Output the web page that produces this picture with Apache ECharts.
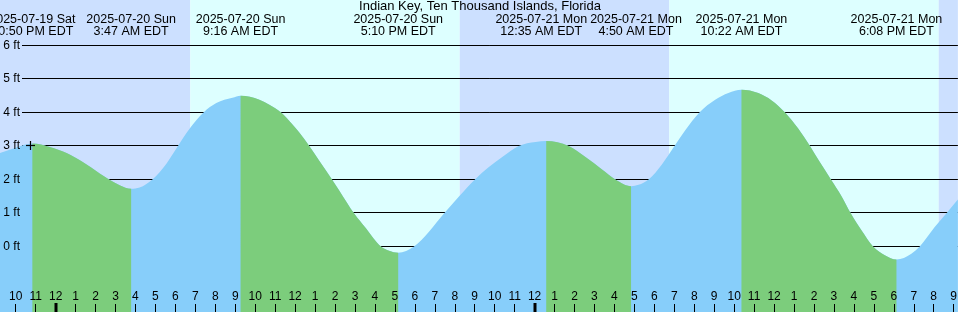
<!DOCTYPE html>
<html>
<head>
<meta charset="utf-8">
<style>html,body{margin:0;padding:0;background:#fff}#chart{width:960px;height:312px}</style>
<script src="https://cdn.jsdelivr.net/npm/echarts@6/dist/echarts.min.js"></script>
</head>
<body>
<div id="chart"></div>
<script>
// ---- data (hours measured from 2025-07-20 00:00 EDT) ----
const titleText = 'Indian Key, Ten Thousand Islands, Florida';
const eventHours = [-1.1667, 3.7833, 9.2667, 17.1667, 24.5833, 28.8333, 34.3667, 42.1333];
const eventFeet  = [3.07, 1.72, 4.50, -0.19, 3.15, 1.80, 4.68, -0.39];
const eventDates = ['2025-07-19 Sat', '2025-07-20 Sun', '2025-07-20 Sun', '2025-07-20 Sun',
                    '2025-07-21 Mon', '2025-07-21 Mon', '2025-07-21 Mon', '2025-07-21 Mon'];
const eventClock = ['10:50 PM EDT', '3:47 AM EDT', '9:16 AM EDT', '5:10 PM EDT',
                    '12:35 AM EDT', '4:50 AM EDT', '10:22 AM EDT', '6:08 PM EDT'];
const readHours = [-2.79, -2.04, -0.29, 0.55, 1.36, 2.21, 2.68, 3.21, 4.21, 4.85, 5.55, 6.13, 6.71,
  7.41, 8.05, 8.86, 10.21, 10.71, 11.30, 11.88, 12.21, 12.71, 13.21, 13.85, 14.21, 14.96, 15.55,
  16.30, 16.71, 17.96, 19.46, 20.21, 21.01, 22.38, 23.21, 24.05, 25.71, 26.55, 27.38, 28.05, 29.21,
  29.71, 30.38, 31.01, 31.55, 32.26, 33.05, 33.71, 35.21, 35.88, 36.55, 37.21, 37.80, 38.30, 38.85,
  39.38, 39.85, 40.38, 40.96, 41.55, 42.88, 43.30, 44.05, 44.63, 45.21];
const readFeet = [2.79, 2.94, 2.97, 2.79, 2.52, 2.18, 2.00, 1.83, 1.76, 2.00, 2.47, 3.00, 3.51,
  4.00, 4.28, 4.44, 4.38, 4.23, 4.00, 3.63, 3.40, 3.00, 2.56, 2.00, 1.67, 0.98, 0.54,
  0.00, -0.13, 0.00, 0.98, 1.49, 2.00, 2.67, 3.00, 3.12, 3.00, 2.67, 2.30, 2.00, 1.84,
  2.00, 2.45, 3.00, 3.47, 4.00, 4.38, 4.58, 4.58, 4.36, 4.00, 3.52, 3.00, 2.51, 2.00,
  1.50, 0.98, 0.48, 0.00, -0.26, -0.22, 0.00, 0.58, 0.98, 1.40];
const sunriseHours = [6.75, 30.75];
const sunsetHours = [20.25, 44.25];
const feetTicks = [0, 1, 2, 3, 4, 5, 6];
const hourTicks = [-2, -1, 0, 1, 2, 3, 4, 5, 6, 7, 8, 9, 10, 11, 12, 13, 14, 15, 16, 17, 18, 19, 20,
  21, 22, 23, 24, 25, 26, 27, 28, 29, 30, 31, 32, 33, 34, 35, 36, 37, 38, 39, 40, 41, 42, 43, 44, 45];
const midnightTicks = [0, 24];
const crossMark = [[-1.26, 3.0]];

// ---- styles ----
const NIGHT = '#cce0ff', DAY = '#ddffff', RISE = '#87cefa', FALL = '#7ccd7c';
const FONT = '"Liberation Sans", Arial, sans-serif';
const EVENT_FONT = '12.5px ' + FONT;
const X_MIN = -2.7875, X_MAX = 45.2125;
const Y_MIN = -1.9567, Y_MAX = 7.3567;

// ---- build ----
const tide = readHours.map((h, i) => [h, readFeet[i], 0])
  .concat(eventHours.map((h, i) => [h, eventFeet[i], 1]))
  .sort((a, b) => a[0] - b[0]);

// tangents for drawing a smooth outline through the read points (flat at highs and lows)
const slopes = (() => {
  const n = tide.length, d = [], m = new Array(n);
  for (let k = 0; k < n - 1; k++) d.push((tide[k + 1][1] - tide[k][1]) / (tide[k + 1][0] - tide[k][0]));
  m[0] = d[0]; m[n - 1] = d[n - 2];
  for (let k = 1; k < n - 1; k++) {
    if (tide[k][2] === 1 || d[k - 1] * d[k] <= 0) { m[k] = 0; continue; }
    const h0 = tide[k][0] - tide[k - 1][0], h1 = tide[k + 1][0] - tide[k][0];
    let s = (h1 * d[k - 1] + h0 * d[k]) / (h0 + h1);
    const lim = 3 * Math.min(Math.abs(d[k - 1]), Math.abs(d[k]));
    if (Math.abs(s) > lim) s = Math.sign(s) * lim;
    m[k] = s;
  }
  return m;
})();

// fill segments: whole range in rising colour, then the falling stretches on top
const segments = [[tide[0][0], tide[tide.length - 1][0], 0]];
for (let i = 0; i < eventHours.length - 1; i++) {
  if (eventFeet[i] > eventFeet[i + 1]) segments.push([eventHours[i], eventHours[i + 1], 1]);
}

const bands = [];
let cursor = X_MIN;
for (let i = 0; i < sunriseHours.length; i++) {
  bands.push([cursor, sunriseHours[i], 0]);
  bands.push([sunriseHours[i], sunsetHours[i], 1]);
  cursor = sunsetHours[i];
}
bands.push([cursor, X_MAX, 0]);

// label widths, used to push touching header labels apart
const measureCtx = document.createElement('canvas').getContext('2d');
measureCtx.font = EVENT_FONT;
const labelW = eventHours.map((h, i) => Math.max(measureCtx.measureText(eventDates[i]).width,
                                                  measureCtx.measureText(eventClock[i]).width));
function labelCenters(api) {
  const c = eventHours.map(h => api.coord([h, 0])[0]);
  for (let i = 0; i < c.length - 1; i++) {
    const ov = (c[i] + labelW[i] / 2) - (c[i + 1] - labelW[i + 1] / 2) + 3;
    if (ov > 0) { c[i] -= ov / 2; c[i + 1] += ov / 2; }
  }
  return c;
}

const hourLabel = v => { const h = ((v % 24) + 24) % 24; const h12 = h % 12 === 0 ? 12 : h % 12; return String(h12); };

const chart = echarts.init(document.getElementById('chart'), null, { renderer: 'canvas' });
chart.setOption({
  animation: false,
  backgroundColor: '#fff',
  title: {
    text: titleText, left: 'center', top: 0, padding: 0,
    textStyle: { fontFamily: FONT, fontSize: 13, fontWeight: 'normal', color: '#000' }
  },
  grid: { left: 0, right: 0, top: 0, bottom: 0, containLabel: false },
  xAxis: {
    type: 'value', min: X_MIN, max: X_MAX, z: 10,
    axisLine: { show: false, onZero: false }, splitLine: { show: false },
    axisTick: { show: true, customValues: hourTicks, inside: true, length: 8, lineStyle: { color: '#000', width: 1 } },
    axisLabel: { show: true, customValues: hourTicks, inside: true, margin: 9, formatter: hourLabel,
      fontFamily: FONT, fontSize: 12, color: '#000' }
  },
  yAxis: { type: 'value', min: Y_MIN, max: Y_MAX, show: false },
  series: [
    {
      name: 'daylight', type: 'custom', z: 1, silent: true, data: bands,
      renderItem: (params, api) => {
        const p0 = api.coord([api.value(0), Y_MAX]);
        const p1 = api.coord([api.value(1), Y_MIN]);
        return { type: 'rect', shape: { x: p0[0], y: p0[1], width: p1[0] - p0[0], height: p1[1] - p0[1] },
          style: { fill: api.value(2) ? DAY : NIGHT } };
      }
    },
    {
      name: 'feetLines', type: 'custom', z: 1, silent: true, data: feetTicks.map(v => [X_MIN, v]),
      renderItem: (params, api) => {
        const p = api.coord([X_MIN, api.value(1)]);
        const y = Math.floor(p[1]) + 0.5;
        const cs = params.coordSys;
        return { type: 'line', shape: { x1: 22, y1: y, x2: cs.x + cs.width, y2: y }, style: { stroke: '#000', lineWidth: 1 } };
      }
    },
    {
      name: 'tide', type: 'custom', z: 2, silent: true, data: segments,
      renderItem: (params, api) => {
        const t0 = api.value(0), t1 = api.value(1);
        const eps = 1e-6;
        const idx = [];
        tide.forEach((p, k) => { if (p[0] >= t0 - eps && p[0] <= t1 + eps) idx.push(k); });
        const f = n => n.toFixed(2);
        const P = k => api.coord([tide[k][0], tide[k][1]]);
        const s = P(idx[0]);
        let d = 'M' + f(s[0]) + ' ' + f(s[1]);
        for (let j = 0; j < idx.length - 1; j++) {
          const a = idx[j], b = idx[j + 1];
          const h = tide[b][0] - tide[a][0];
          const c1 = api.coord([tide[a][0] + h / 3, tide[a][1] + slopes[a] * h / 3]);
          const c2 = api.coord([tide[b][0] - h / 3, tide[b][1] - slopes[b] * h / 3]);
          const e = P(b);
          d += ' C' + f(c1[0]) + ' ' + f(c1[1]) + ' ' + f(c2[0]) + ' ' + f(c2[1]) + ' ' + f(e[0]) + ' ' + f(e[1]);
        }
        const endB = api.coord([tide[idx[idx.length - 1]][0], Y_MIN]);
        const startB = api.coord([tide[idx[0]][0], Y_MIN]);
        d += ' L' + f(endB[0]) + ' ' + f(endB[1]) + ' L' + f(startB[0]) + ' ' + f(startB[1]) + ' Z';
        return { type: 'path', shape: { pathData: d }, style: { fill: api.value(2) ? FALL : RISE } };
      }
    },
    {
      name: 'feetLabels', type: 'custom', z: 5, silent: true, data: feetTicks.map(v => [X_MIN, v]),
      renderItem: (params, api) => {
        const v = api.value(1);
        const p = api.coord([X_MIN, v]);
        const y = Math.floor(p[1]) + 0.5;
        return { type: 'text', style: { text: v + ' ft', x: 20, y: y + 0.5, align: 'right', verticalAlign: 'middle',
          font: '12px ' + FONT, fill: '#000' } };
      }
    },
    {
      name: 'mark', type: 'custom', z: 5, silent: true, data: crossMark,
      renderItem: (params, api) => {
        const p = api.coord([api.value(0), api.value(1)]);
        const cx = Math.floor(p[0]) + 0.5, cy = Math.floor(p[1]) + 0.5;
        return { type: 'group', children: [
          { type: 'line', shape: { x1: cx - 4.5, y1: cy, x2: cx + 4.5, y2: cy }, style: { stroke: '#000', lineWidth: 1.2 } },
          { type: 'line', shape: { x1: cx, y1: cy - 4.5, x2: cx, y2: cy + 4.5 }, style: { stroke: '#000', lineWidth: 1.2 } }
        ] };
      }
    },
    {
      name: 'midnight', type: 'custom', z: 11, silent: true, data: midnightTicks.map(h => [h, Y_MIN]),
      renderItem: (params, api) => {
        const p = api.coord([api.value(0), Y_MIN]);
        return { type: 'rect', shape: { x: Math.round(p[0]) - 1.5, y: p[1] - 9, width: 3, height: 9 }, style: { fill: '#000' } };
      }
    },
    {
      name: 'events', type: 'custom', z: 5, silent: true,
      data: eventHours.map((h, i) => [h, eventFeet[i], i]),
      renderItem: (params, api) => {
        const i = api.value(2);
        const x = labelCenters(api)[i];
        return { type: 'group', children: [
          { type: 'text', style: { text: eventDates[i], x: x, y: 20, align: 'center', verticalAlign: 'middle', font: EVENT_FONT, fill: '#000' } },
          { type: 'text', style: { text: eventClock[i], x: x, y: 32, align: 'center', verticalAlign: 'middle', font: EVENT_FONT, fill: '#000' } }
        ] };
      }
    }
  ]
});
</script>
</body>
</html>
